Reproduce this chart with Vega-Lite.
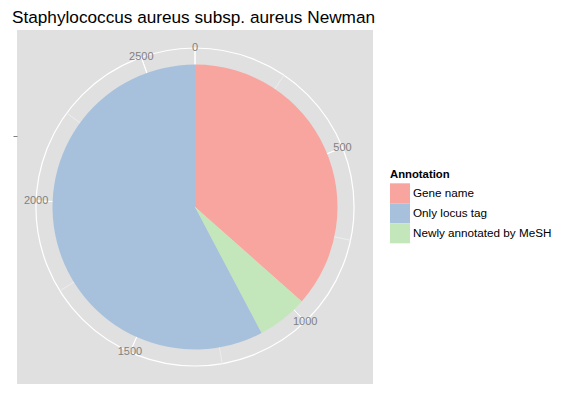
{
  "$schema": "https://vega.github.io/schema/vega-lite/v6.json",
  "width": 356,
  "height": 354,
  "autosize": {"type": "none"},
  "padding": {"left": 17, "top": 30, "right": 192, "bottom": 9},
  "background": "white",
  "view": {"fill": "#E0E0E0", "stroke": null},
  "title": {
    "text": "Staphylococcus aureus subsp. aureus Newman",
    "anchor": "start",
    "frame": "group",
    "font": "Liberation Sans",
    "fontSize": 17.2,
    "fontWeight": "normal",
    "color": "black",
    "offset": 4,
    "dx": -5
  },
  "config": {
    "view": {"fill": "#E0E0E0", "stroke": null},
    "font": "Liberation Sans"
  },
  "datasets": {
    "annot": [
      {"Annotation": "Gene name", "count": 966, "seq": 1},
      {"Annotation": "Newly annotated by MeSH", "count": 152, "seq": 2},
      {"Annotation": "Only locus tag", "count": 1527, "seq": 3}
    ],
    "major": [
      {"tick": 0}, {"tick": 500}, {"tick": 1000}, {"tick": 1500}, {"tick": 2000}, {"tick": 2500}
    ],
    "minor": [
      {"tick": 250}, {"tick": 750}, {"tick": 1250}, {"tick": 1750}, {"tick": 2250}
    ]
  },
  "layer": [
    {
      "data": {"values": [{"r": 1}]},
      "mark": {"type": "point", "opacity": 0},
      "encoding": {
        "y": {
          "field": "r",
          "type": "quantitative",
          "scale": {"domain": [0.5, 1.5], "range": [177, 34.5], "nice": false, "zero": false},
          "axis": {"values": [1], "labels": false, "title": null, "domain": false, "grid": false, "ticks": true, "tickColor": "#7F7F7F", "tickSize": 4, "tickWidth": 1}
        }
      }
    },
    {
      "data": {"values": [{"ring": 1}]},
      "mark": {"type": "arc", "theta": 0, "theta2": 6.2832, "radius": 159, "filled": false, "stroke": "white", "strokeWidth": 1.2},
      "encoding": {}
    },
    {
      "data": {"name": "minor"},
      "mark": {"type": "arc", "radius": 159, "radius2": 0, "filled": false, "stroke": "#ECECEC", "strokeWidth": 0.7},
      "encoding": {
        "theta": {"field": "tick", "type": "quantitative", "stack": null, "scale": {"nice": false, "zero": true}},
        "theta2": {"field": "tick"}
      }
    },
    {
      "data": {"name": "major"},
      "mark": {"type": "arc", "radius": 159, "radius2": 0, "filled": false, "stroke": "white", "strokeWidth": 1},
      "encoding": {
        "theta": {"field": "tick", "type": "quantitative", "stack": null},
        "theta2": {"field": "tick"}
      }
    },
    {
      "data": {"name": "major"},
      "mark": {"type": "text", "radius": 159, "fontSize": 11, "color": "#808080", "align": "center", "baseline": "middle"},
      "encoding": {
        "theta": {"field": "tick", "type": "quantitative", "stack": null},
        "text": {"field": "tick", "type": "quantitative", "format": "d"}
      }
    },
    {
      "data": {"name": "annot"},
      "mark": {"type": "arc", "radius": 142.5},
      "encoding": {
        "theta": {"field": "count", "type": "quantitative", "stack": true},
        "order": {"field": "seq", "type": "quantitative"},
        "color": {
          "field": "Annotation",
          "type": "nominal",
          "scale": {
            "domain": ["Gene name", "Only locus tag", "Newly annotated by MeSH"],
            "range": ["#F8A5A0", "#A7C1DD", "#C4E6BB"]
          },
          "legend": {
            "title": "Annotation",
            "orient": "none",
            "legendX": 373,
            "legendY": 139,
            "titleFontSize": 11.3,
            "titleFontWeight": "bold",
            "titleColor": "black",
            "titlePadding": 3,
            "labelFontSize": 11.7,
            "labelColor": "black",
            "labelOffset": 3,
            "symbolType": "square",
            "symbolSize": 400,
            "symbolStrokeWidth": 0,
            "rowPadding": 0,
            "padding": 0
          }
        }
      }
    }
  ]
}
